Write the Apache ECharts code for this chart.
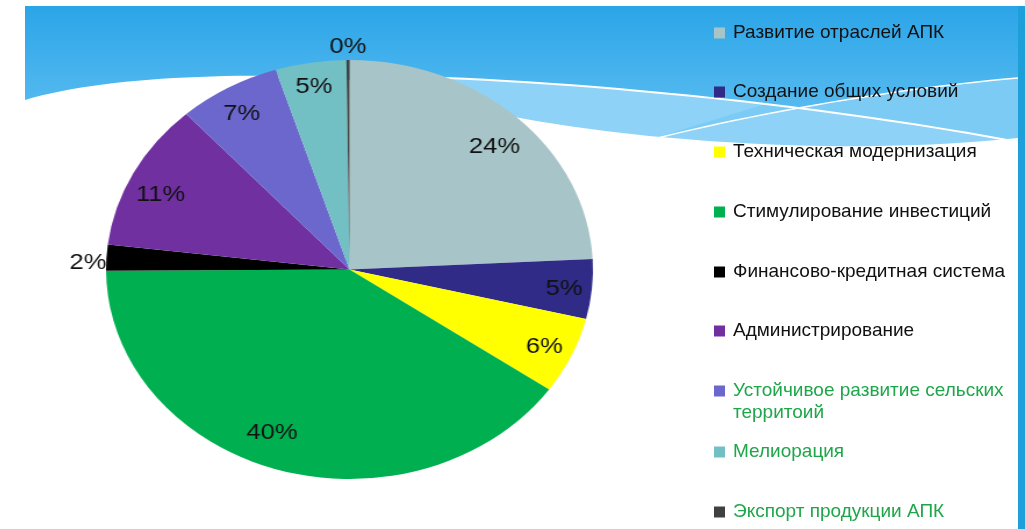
<!DOCTYPE html>
<html>
<head>
<meta charset="utf-8">
<script src="https://cdn.jsdelivr.net/npm/echarts@6/dist/echarts.min.js"></script>
<style>
html, body { margin: 0; padding: 0; background: #fff; }
#wrap { position: relative; width: 1025px; height: 529px; overflow: hidden; }
#bg { position: absolute; left: 0; top: 0; width: 1025px; height: 529px; }
/* the slide was stretched sideways, so the pie is drawn round and widened here */
#pie { position: absolute; left: 0; top: 0; width: 1025px; height: 529px;
       transform-origin: 349.5px 0; transform: scaleX(1.162); }
</style>
</head>
<body>
<div id="wrap"><div id="bg"></div><div id="pie"></div></div>
<script>
// доли направлений, %
var names = [
    'Развитие отраслей АПК',
    'Создание общих условий',
    'Техническая модернизация',
    'Стимулирование инвестиций',
    'Финансово-кредитная система',
    'Администрирование',
    'Устойчивое развитие сельских\nтерритоий',
    'Мелиорация',
    'Экспорт продукции АПК'
];
var values = [24.2, 4.6, 5.9, 40.2, 2.0, 11.4, 6.8, 4.7, 0.2];
var colors = ['#a7c5c8', '#2f2b87', '#ffff00', '#00b050', '#000000',
              '#7030a0', '#6b67cc', '#72bfc4', '#404040'];
var textColors = ['#111', '#111', '#111', '#111', '#111', '#111',
                  '#1fa64a', '#1fa64a', '#1fa64a'];
var outside = [4, 8];   // подписи снаружи круга
var legendY = [33, 92, 152, 212, 272, 331, 391, 452, 512];
// небольшие сдвиги подписей (как "наилучшее размещение" в PowerPoint)
var labelShift = [[0, 9], [5, 2], [3, 3], [-15, -9], [0, 6], [-2, 9], [-3, 1], [-2, -4], [0, 3]];

var font = 'Liberation Sans';
var R = 209.5;
var C = [349.5, 269.5];
var SX = 1.162;

function pieData(labelFor) {
    return names.map(function (n, i) {
        return { name: n, value: values[i], label: { show: labelFor(i) } };
    });
}

// точки кубической кривой для декоративного фона
function curve(p0, c1, c2, p1) {
    var pts = [];
    for (var k = 0; k <= 24; k++) {
        var t = k / 24, u = 1 - t;
        pts.push([
            u * u * u * p0[0] + 3 * u * u * t * c1[0] + 3 * u * t * t * c2[0] + t * t * t * p1[0],
            u * u * u * p0[1] + 3 * u * u * t * c1[1] + 3 * u * t * t * c2[1] + t * t * t * p1[1]
        ]);
    }
    return pts;
}

var line1 = curve([445, 78], [600, 84], [820, 105], [1018, 142]);
var line2 = curve([645, 141], [760, 112], [900, 88], [1018, 78]);
var whiteEdge = [].concat(
    curve([25, 100], [90, 80], [200, 74], [300, 76]),
    curve([300, 76], [400, 80], [450, 105], [520, 118]),
    curve([520, 118], [650, 142], [850, 156], [1018, 138])
);

// фон + легенда
var bgChart = echarts.init(document.getElementById('bg'));
var legends = names.map(function (n, i) {
    var two = n.indexOf('\n') >= 0;
    return {
        orient: 'vertical',
        left: 714,
        // у двухстрочной подписи значок стоит у первой строки
        top: legendY[i] - (two ? 33 : 11),
        padding: 0,
        icon: 'rect',
        itemWidth: 11,
        itemHeight: 11,
        selectedMode: false,
        data: [{ name: n, itemStyle: { color: colors[i] } }],
        formatter: function (s) { return two ? ' \n' + s : s; },
        textStyle: {
            fontFamily: font,
            fontSize: 19,
            lineHeight: 22,
            color: textColors[i],
            padding: [0, 0, 0, 3]
        }
    };
});

bgChart.setOption({
    animation: false,
    graphic: [
        { type: 'rect', z: 1, shape: { x: 25, y: 6, width: 993, height: 160 },
          style: { fill: new echarts.graphic.LinearGradient(0, 0, 0, 1, [
              { offset: 0, color: '#2ba5e8' }, { offset: 1, color: '#6ec6f4' }]) } },
        { type: 'polygon', z: 2, shape: { points: line1.concat([[1018, 170], [445, 170]]) },
          style: { fill: '#8ed3f7' } },
        { type: 'polygon', z: 2, shape: { points: line2.concat(line1.slice().reverse().filter(function (p) { return p[0] > 760; })) },
          style: { fill: '#7ccbf5' } },
        { type: 'polygon', z: 3, shape: { points: whiteEdge.concat([[1018, 529], [25, 529]]) },
          style: { fill: '#fff' } },
        { type: 'polyline', z: 4, shape: { points: line1 },
          style: { stroke: '#fff', lineWidth: 2 } },
        { type: 'polyline', z: 4, shape: { points: line2 },
          style: { stroke: '#fff', lineWidth: 1.5 } },
        { type: 'rect', z: 5, shape: { x: 1018, y: 6, width: 7, height: 523 },
          style: { fill: '#1d9fda' } }
    ],
    legend: legends,
    series: [{
        // только для легенды, за пределами холста
        type: 'pie',
        center: [-100, -100],
        radius: [0, 1],
        silent: true,
        label: { show: false },
        labelLine: { show: false },
        data: names.map(function (n, i) {
            return { name: n, value: values[i], itemStyle: { color: colors[i] } };
        })
    }]
});

// круговая диаграмма
var pieChart = echarts.init(document.getElementById('pie'));
var ring = {
    type: 'pie',
    center: C,
    startAngle: 90,
    clockwise: true,
    silent: true,
    percentPrecision: 0,
    itemStyle: { color: 'rgba(0,0,0,0)', borderWidth: 0 },
    labelLine: { show: false },
    label: {
        position: 'inside',
        formatter: '{d}%',
        color: '#111',
        fontFamily: font,
        fontSize: 22
    },
    labelLayout: function (p) {
        var s = labelShift[p.dataIndex];
        return { dx: s[0] / SX, dy: s[1] };
    }
};

pieChart.setOption({
    animation: false,
    series: [
        {
            type: 'pie',
            center: C,
            radius: [0, R],
            startAngle: 90,
            clockwise: true,
            silent: true,
            label: { show: false },
            labelLine: { show: false },
            itemStyle: { borderWidth: 0 },
            data: names.map(function (n, i) {
                return { name: n, value: values[i], itemStyle: { color: colors[i] } };
            })
        },
        Object.assign({}, ring, {
            radius: [R * 0.7, R],
            data: pieData(function (i) { return outside.indexOf(i) < 0; })
        }),
        Object.assign({}, ring, {
            radius: [R, R + 26],
            data: pieData(function (i) { return outside.indexOf(i) >= 0; })
        })
    ]
});
</script>
</body>
</html>
